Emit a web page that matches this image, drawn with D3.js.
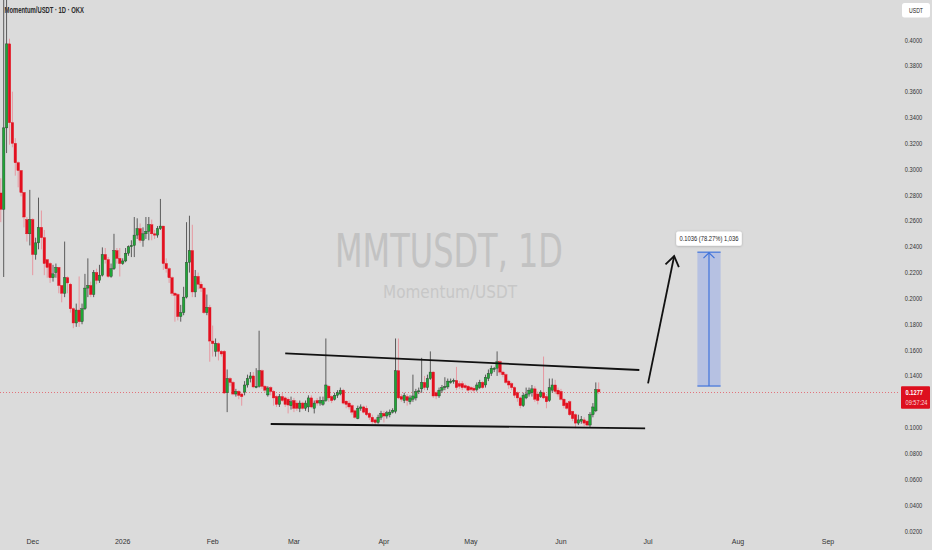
<!DOCTYPE html>
<html><head><meta charset="utf-8">
<script src="https://cdn.jsdelivr.net/npm/d3@7"></script>
<style>html,body{margin:0;padding:0;background:#dbdbdb;}svg{display:block;}</style>
</head><body>
<svg id="chart" width="932" height="550"></svg>
<script>
// ---------------- DATA ----------------
const symbolTitle = "Momentum/USDT · 1D · OKX";
const watermarkMain = "MMTUSDT, 1D";
const watermarkSub = "Momentum/USDT";
const currencyLabel = "USDT";
const firstCandleDate = "2025-11-20";

const opens = [
.2816,.269,.332,.397,.336,.320,.305,.299,.282,.261,.250,.261,.234,.243,.255,.247,.230,.227,.216,.220,
.224,.210,.204,.216,.211,.192,.181,.191,.182,.192,.208,.210,.203,.220,.214,.218,.234,.230,.217,.223,
.237,.231,.227,.229,.235,.240,.241,.249,.254,.245,.250,.252,.257,.250,.249,.254,.256,.227,.223,.216,
.204,.203,.186,.189,.201,.228,.237,.205,.217,.211,.208,.189,.193,.167,.159,.165,.159,.159,.127,.138,
.135,.126,.128,.126,.1275,.133,.138,.140,.131,.132,.144,.132,.1253,.131,.128,.124,.118,.124,.123,.122,
.117,.121,.119,.115,.119,.115,.116,.123,.115,.121,.119,.118,.121,.132,.124,.122,.125,.126,.129,.1205,
.119,.117,.113,.107,.115,.116,.115,.111,.108,.106,.104,.108,.111,.109,.110,.112,.1125,.144,.124,.121,
.124,.120,.122,.123,.128,.130,.135,.131,.138,.143,.127,.1245,.129,.131,.1315,.135,.136,.1365,.134,.134,
.1325,.132,.131,.1305,.1295,.131,.135,.133,.138,.142,.145,.146,.151,.143,.141,.136,.134,.131,.127,.123,
.117,.123,.126,.127,.130,.126,.124,.127,.124,.121,.129,.133,.129,.128,.122,.119,.120,.1125,.110,.1035,
.105,.106,.105,.102,.110,.113,.1295];
const highs = [
.293,.44,.44,.401,.36,.324,.306,.299,.282,.263,.284,.262,.247,.278,.268,.253,.230,.228,.226,.227,
.224,.210,.244,.217,.212,.193,.196,.217,.196,.219,.231,.213,.222,.223,.226,.2395,.239,.232,.227,.250,
.239,.239,.231,.239,.241,.245,.263,.262,.258,.255,.263,.263,.261,.253,.256,.277,.256,.231,.224,.217,
.205,.204,.195,.209,.259,.264,.257,.222,.220,.213,.209,.203,.195,.179,.169,.166,.160,.160,.145,.139,
.136,.130,.129,.127,.136,.141,.143,.143,.146,.175,.145,.133,.132,.132,.129,.125,.126,.127,.124,.1234,
.124,.123,.121,.121,.120,.121,.125,.125,.121,.123,.124,.124,.169,.133,.125,.127,.129,.131,.130,.121,
.121,.118,.114,.117,.118,.117,.117,.112,.110,.107,.110,.113,.113,.113,.114,.115,.169,.169,.126,.127,
.126,.125,.141,.130,.131,.154,.140,.141,.159,.1435,.128,.131,.133,.139,.138,.138,.138,.147,.136,.136,
.134,.133,.132,.132,.135,.137,.136,.141,.145,.148,.147,.159,.152,.144,.142,.137,.135,.132,.128,.124,
.127,.131,.131,.133,.132,.128,.129,.155,.126,.138,.138,.137,.131,.130,.123,.120,.121,.113,.111,.110,
.109,.108,.106,.112,.119,.135,.135];
const lows = [
.259,.2166,.3125,.319,.317,.295,.286,.279,.255,.244,.241,.218,.230,.238,.238,.218,.216,.212,.213,.216,
.204,.197,.201,.204,.189,.177,.178,.178,.180,.191,.201,.201,.201,.211,.212,.217,.227,.216,.216,.222,
.227,.217,.226,.228,.233,.232,.232,.246,.243,.240,.246,.245,.245,.246,.247,.253,.222,.220,.212,.202,
.182,.183,.182,.187,.200,.220,.201,.201,.207,.205,.188,.187,.151,.155,.155,.152,.155,.126,.112,.132,
.125,.124,.122,.117,.125,.131,.135,.1305,.1305,.131,.130,.127,.124,.125,.117,.116,.116,.120,.116,.111,
.114,.112,.113,.112,.114,.113,.112,.115,.111,.117,.117,.117,.120,.120,.119,.121,.123,.125,.118,.115,
.114,.110,.107,.1065,.113,.111,.109,.106,.103,.102,.103,.106,.104,.107,.108,.111,.111,.122,.120,.119,
.117,.118,.120,.121,.126,.127,.129,.129,.137,.123,.122,.123,.127,.129,.130,.134,.134,.129,.130,.129,
.130,.128,.128,.127,.128,.130,.130,.131,.136,.140,.143,.140,.141,.139,.134,.130,.129,.123,.120,.115,
.116,.122,.124,.124,.120,.118,.123,.122,.115,.120,.127,.126,.124,.121,.115,.114,.109,.105,.0995,.102,
.103,.101,.101,.100,.108,.112,.126];
const closes = [
.269,.332,.397,.336,.320,.305,.299,.282,.263,.250,.261,.234,.243,.255,.247,.227,.224,.216,.219,.224,
.210,.204,.216,.212,.192,.181,.191,.182,.192,.208,.210,.203,.220,.214,.218,.234,.230,.217,.223,.237,
.231,.227,.229,.235,.240,.241,.249,.254,.245,.250,.252,.257,.250,.249,.254,.256,.227,.223,.216,.204,
.2025,.186,.189,.201,.228,.237,.205,.217,.211,.208,.189,.193,.167,.165,.165,.159,.157,.1268,.138,.135,
.126,.128,.125,.124,.133,.138,.140,.1315,.132,.144,.132,.129,.1307,.128,.123,.118,.124,.121,.118,.1175,
.120,.115,.115,.119,.115,.119,.123,.116,.119,.119,.121,.121,.133,.123,.121,.125,.127,.129,.119,.118,
.116,.112,.108,.115,.116,.112,.110,.108,.1045,.104,.108,.111,.109,.1115,.112,.1135,.144,.123,.122,.125,
.121,.123,.1245,.128,.1285,.135,.131,.138,.143,.1245,.1245,.129,.131,.132,.136,.136,.1365,.131,.132,.131,
.131,.129,.1295,.129,.133,.135,.131,.139,.142,.146,.146,.151,.143,.141,.135,.133,.131,.125,.123,.117,
.125,.126,.129,.130,.122,.121,.1275,.123,.120,.131,.133,.128,.126,.122,.117,.115,.110,.107,.1035,.106,
.1065,.1035,.102,.110,.116,.1295,.1277];

const priceTicks = [0.02,0.04,0.06,0.08,0.10,0.12,0.14,0.16,0.18,0.20,0.22,0.24,0.26,0.28,0.30,0.32,0.34,0.36,0.38,0.40];
const monthTicks = ["2025-12-01","2026-01-01","2026-02-01","2026-03-01","2026-04-01","2026-05-01","2026-06-01","2026-07-01","2026-08-01","2026-09-01"];
const monthLabels = ["Dec","2026","Feb","Mar","Apr","May","Jun","Jul","Aug","Sep"];

const upperTrendDates = ["2026-02-26","2026-06-28"];
const upperTrendPrices = [0.1575,0.1446];
const lowerTrendDates = ["2026-02-21","2026-06-30"];
const lowerTrendPrices = [0.1028,0.0995];
const arrowDates = ["2026-07-01","2026-07-10"];
const arrowPrices = [0.1343,0.2328];
const projDates = ["2026-07-18","2026-07-26"];
const projPrices = [0.1322,0.2358];
const projLabel = "0.1036 (78.27%) 1,036";
const lastPrice = 0.1277;
const countdown = "09:57:24";

// ---------------- CHART ----------------
const W = 932, H = 550;
const plotRight = 900, plotBottom = 530;
const parse = d3.utcParse("%Y-%m-%d");
const x = d3.scaleUtc().domain([parse("2025-12-01"), parse("2026-09-01")]).range([32.7, 828]);
const y = d3.scaleLinear().domain([0.02, 0.40]).range([531, 40]);

const svg = d3.select("#chart");
svg.append("rect").attr("width", W).attr("height", H).attr("fill", "#dbdbdb");

const defs = svg.append("defs");
defs.append("clipPath").attr("id", "plotclip").append("rect")
  .attr("x", 0).attr("y", 0).attr("width", plotRight).attr("height", plotBottom);
const shadow = defs.append("filter").attr("id", "sh").attr("x", "-20%").attr("y", "-40%").attr("width", "140%").attr("height", "180%");
shadow.append("feDropShadow").attr("dx", 0).attr("dy", 0.5).attr("stdDeviation", 0.8).attr("flood-color", "#000").attr("flood-opacity", 0.25);

// Watermark
svg.append("text").attr("x", 335).attr("y", 267)
  .attr("textLength", 228).attr("lengthAdjust", "spacingAndGlyphs")
  .attr("font-family", "'DejaVu Sans', sans-serif").attr("font-size", 46)
  .attr("fill", "#c2c2c2").text(watermarkMain);
svg.append("text").attr("x", 383).attr("y", 297.5)
  .attr("textLength", 134).attr("lengthAdjust", "spacingAndGlyphs")
  .attr("font-family", "'DejaVu Sans', sans-serif").attr("font-size", 18.5)
  .attr("fill", "#c7c7c7").text(watermarkSub);

// Title
svg.append("text").attr("x", 4.5).attr("y", 13)
  .attr("textLength", 79.5).attr("lengthAdjust", "spacingAndGlyphs")
  .attr("font-family", "'Liberation Sans', Arial, sans-serif").attr("font-size", 8.4).attr("font-weight", 600)
  .attr("fill", "#2a2a2a").text(symbolTitle);

const plot = svg.append("g").attr("clip-path", "url(#plotclip)");

// Current price dotted line
plot.append("line").attr("x1", 0).attr("x2", plotRight)
  .attr("y1", Math.round(y(lastPrice)) + 0.5).attr("y2", Math.round(y(lastPrice)) + 0.5)
  .attr("stroke", "#e2737b").attr("stroke-width", 1).attr("stroke-dasharray", "1,2");

// Candles
const start = parse(firstCandleDate);
const n = Math.min(opens.length, highs.length, lows.length, closes.length);
const candles = d3.range(n).map(i => ({
  date: d3.utcDay.offset(start, i), o: opens[i], h: highs[i], l: lows[i], c: closes[i]
}));
const bw = 2.5;
const cg = plot.append("g");
cg.selectAll("line.wick").data(candles).join("line")
  .attr("class", "wick")
  .attr("x1", d => x(d.date)).attr("x2", d => x(d.date))
  .attr("y1", d => y(d.h)).attr("y2", d => y(d.l))
  .attr("stroke", d => d.c >= d.o ? "#4d4d4d" : "#e8909a")
  .attr("stroke-width", 0.9);
cg.selectAll("rect.body").data(candles).join("rect")
  .attr("class", "body")
  .attr("x", d => x(d.date) - bw / 2)
  .attr("width", bw)
  .attr("y", d => y(Math.max(d.o, d.c)))
  .attr("height", d => Math.max(1, Math.abs(y(d.o) - y(d.c))))
  .attr("fill", d => d.c >= d.o ? "#1fa637" : "#e3101f")
  .attr("stroke", d => d.c >= d.o ? "#2b3a2b" : "#e3101f")
  .attr("stroke-width", 0.4);

// Trend lines
const lineGen = d3.line().x(d => x(parse(d[0]))).y(d => y(d[1]));
plot.append("path").attr("d", lineGen(d3.zip(upperTrendDates, upperTrendPrices)))
  .attr("stroke", "#111").attr("stroke-width", 1.8).attr("fill", "none");
plot.append("path").attr("d", lineGen(d3.zip(lowerTrendDates, lowerTrendPrices)))
  .attr("stroke", "#111").attr("stroke-width", 1.8).attr("fill", "none");

// Arrow
const ax0 = x(parse(arrowDates[0])), ay0 = y(arrowPrices[0]);
const ax1 = x(parse(arrowDates[1])), ay1 = y(arrowPrices[1]);
plot.append("line").attr("x1", ax0).attr("y1", ay0).attr("x2", ax1).attr("y2", ay1)
  .attr("stroke", "#111").attr("stroke-width", 1.8);
const ang = Math.atan2(ay1 - ay0, ax1 - ax0);
const hl = 12, ha = Math.PI / 5.2;
const headPts = [
  [ax1 - hl * Math.cos(ang - ha), ay1 - hl * Math.sin(ang - ha)],
  [ax1, ay1],
  [ax1 - hl * Math.cos(ang + ha), ay1 - hl * Math.sin(ang + ha)]
];
plot.append("path").attr("d", d3.line()(headPts))
  .attr("stroke", "#111").attr("stroke-width", 1.8).attr("fill", "none").attr("stroke-linejoin", "miter");

// Projection box
const px0 = x(parse(projDates[0])), px1 = x(parse(projDates[1]));
const pyB = y(projPrices[0]), pyT = y(projPrices[1]);
const pxm = (px0 + px1) / 2;
plot.append("rect").attr("x", px0).attr("y", pyT).attr("width", px1 - px0).attr("height", pyB - pyT)
  .attr("fill", "#b6c1e2");
[pyT, pyB].forEach(yy => plot.append("line").attr("x1", px0).attr("x2", px1).attr("y1", yy).attr("y2", yy)
  .attr("stroke", "#3f73db").attr("stroke-width", 1.2));
plot.append("line").attr("x1", pxm).attr("x2", pxm).attr("y1", pyT).attr("y2", pyB)
  .attr("stroke", "#3f73db").attr("stroke-width", 1.2);
plot.append("path").attr("d", d3.line()([[pxm - 5.5, pyT + 6], [pxm, pyT + 0.6], [pxm + 5.5, pyT + 6]]))
  .attr("stroke", "#3f73db").attr("stroke-width", 1.2).attr("fill", "none");
// Label
const lblW = 65.6, lblH = 14.3;
plot.append("rect").attr("x", pxm - lblW / 2).attr("y", pyT - 20.6).attr("width", lblW).attr("height", lblH)
  .attr("rx", 2).attr("fill", "#ffffff").attr("filter", "url(#sh)");
plot.append("text").attr("x", pxm).attr("y", pyT - 10.8)
  .attr("text-anchor", "middle").attr("textLength", 59).attr("lengthAdjust", "spacingAndGlyphs")
  .attr("font-family", "'Liberation Sans', Arial, sans-serif").attr("font-size", 7.6)
  .attr("fill", "#1e1e1e").text(projLabel);

// Time axis labels
svg.append("g").selectAll("text").data(monthTicks).join("text")
  .attr("x", d => x(parse(d))).attr("y", 543.5)
  .attr("text-anchor", "middle")
  .attr("font-family", "'Liberation Sans', Arial, sans-serif").attr("font-size", 7)
  .attr("fill", "#333")
  .text((d, i) => monthLabels[i]);

// Price axis labels
const lastY = y(lastPrice);
svg.append("g").selectAll("text").data(priceTicks.filter(v => Math.abs(y(v) - lastY) > 14)).join("text")
  .attr("x", 913.5).attr("y", v => y(v) + 2.5)
  .attr("text-anchor", "middle").attr("textLength", 17.5).attr("lengthAdjust", "spacingAndGlyphs")
  .attr("font-family", "'Liberation Sans', Arial, sans-serif").attr("font-size", 7.2)
  .attr("fill", "#333")
  .text(v => v.toFixed(4));

// Currency box
svg.append("rect").attr("x", 902).attr("y", 3).attr("width", 28).attr("height", 14.5).attr("rx", 2.5).attr("fill", "#fff");
svg.append("text").attr("x", 916).attr("y", 12.6).attr("text-anchor", "middle")
  .attr("textLength", 14).attr("lengthAdjust", "spacingAndGlyphs")
  .attr("font-family", "'Liberation Sans', Arial, sans-serif").attr("font-size", 6.5)
  .attr("fill", "#222").text(currencyLabel);

// Last price box
svg.append("rect").attr("x", 901).attr("y", lastY - 5.5).attr("width", 29).attr("height", 22.5).attr("rx", 1).attr("fill", "#dd0f1e");
svg.append("text").attr("x", 905.5).attr("y", lastY + 3)
  .attr("textLength", 17.5).attr("lengthAdjust", "spacingAndGlyphs")
  .attr("font-family", "'Liberation Sans', Arial, sans-serif").attr("font-size", 7.5).attr("font-weight", 700)
  .attr("fill", "#fff").text(lastPrice.toFixed(4));
svg.append("text").attr("x", 905.5).attr("y", lastY + 13.2)
  .attr("textLength", 22).attr("lengthAdjust", "spacingAndGlyphs")
  .attr("font-family", "'Liberation Sans', Arial, sans-serif").attr("font-size", 7)
  .attr("fill", "#fbd5d8").text(countdown);
</script>
</body></html>
